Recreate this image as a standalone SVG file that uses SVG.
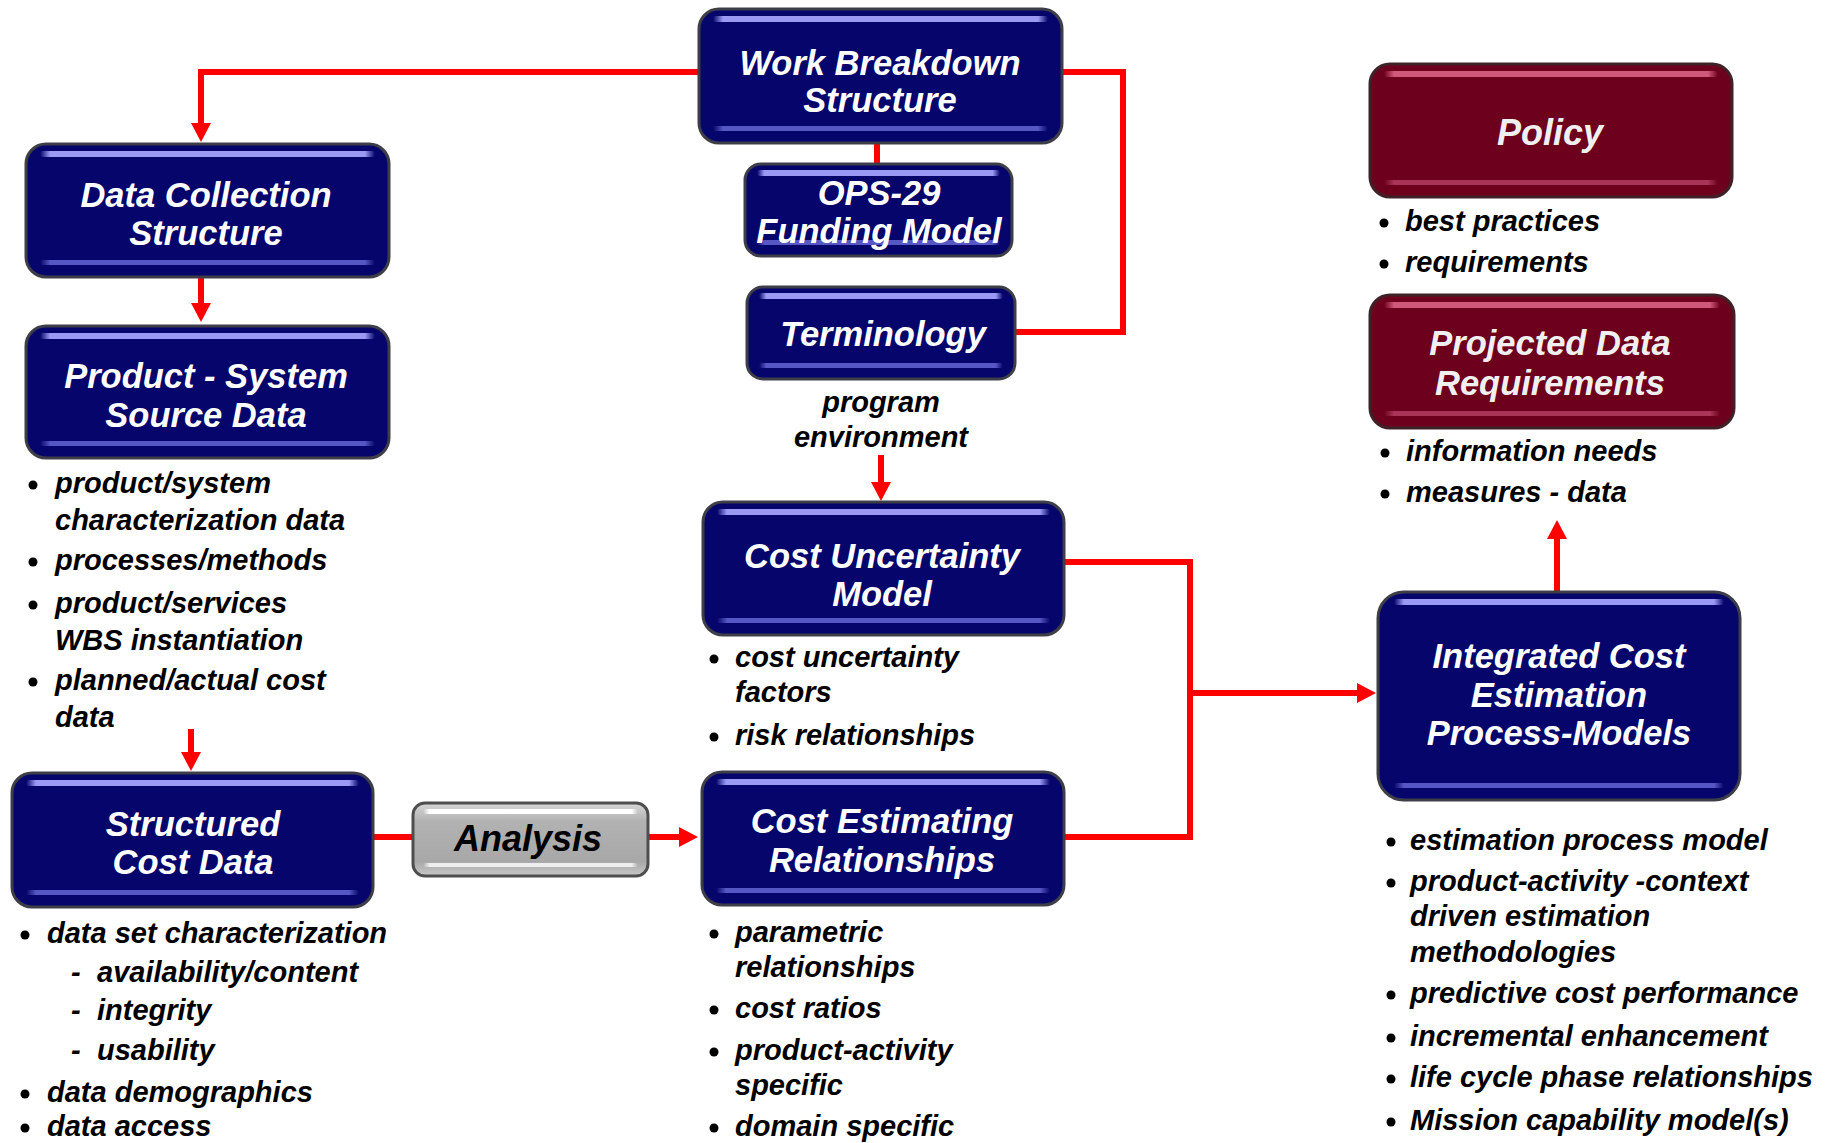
<svg xmlns="http://www.w3.org/2000/svg" width="1837" height="1143" viewBox="0 0 1837 1143">
<style>
  .base-n{fill:#05056b;stroke:#3e3e48;stroke-width:3}
  .base-m{fill:#6c001d;stroke:#3e2228;stroke-width:3}
  .base-g{fill:url(#gGray);stroke:#4e4e4e;stroke-width:3}
  .top-n{fill:url(#hlN)}
  .bot-n{fill:url(#blN)}
  .top-m{fill:url(#hlM)}
  .bot-m{fill:url(#blM)}
  .top-g{fill:url(#hlG)}
  .bot-g{fill:url(#blG)}
  .t{font-family:"Liberation Sans",Arial,sans-serif;font-weight:bold;font-style:italic;font-size:34.5px;fill:#ffffff;text-anchor:middle}
  .tp{font-family:"Liberation Sans",Arial,sans-serif;font-weight:bold;font-style:italic;font-size:36px;fill:#f0f0f0;text-anchor:middle}
  .ta{font-family:"Liberation Sans",Arial,sans-serif;font-weight:bold;font-style:italic;font-size:36px;fill:#000000;text-anchor:middle}
  .b{font-family:"Liberation Sans",Arial,sans-serif;font-weight:bold;font-style:italic;font-size:29px;fill:#000000}
  .bc{font-family:"Liberation Sans",Arial,sans-serif;font-weight:bold;font-style:italic;font-size:29px;fill:#000000;text-anchor:middle}
  .dot{fill:#000000}
  .wire{fill:none;stroke:#ff0000;stroke-width:6;stroke-linejoin:miter;stroke-linecap:butt}
  .arr{marker-end:url(#ah)}
</style>
<defs>
  <marker id="ah" markerUnits="userSpaceOnUse" markerWidth="20" markerHeight="20" viewBox="0 0 20 20" refX="0" refY="10" orient="auto">
    <path d="M0,0 L19,10 L0,20 z" fill="#ff0000"/>
  </marker>
  <linearGradient id="hlN" x1="0" y1="0" x2="1" y2="0">
    <stop offset="0" stop-color="#9a9af5" stop-opacity="0"/>
    <stop offset="0.03" stop-color="#9a9af5" stop-opacity="1"/>
    <stop offset="0.97" stop-color="#9a9af5" stop-opacity="1"/>
    <stop offset="1" stop-color="#9a9af5" stop-opacity="0"/>
  </linearGradient>
  <linearGradient id="blN" x1="0" y1="0" x2="1" y2="0">
    <stop offset="0" stop-color="#5656c4" stop-opacity="0"/>
    <stop offset="0.03" stop-color="#5656c4" stop-opacity="1"/>
    <stop offset="0.97" stop-color="#5656c4" stop-opacity="1"/>
    <stop offset="1" stop-color="#5656c4" stop-opacity="0"/>
  </linearGradient>
  <linearGradient id="hlM" x1="0" y1="0" x2="1" y2="0">
    <stop offset="0" stop-color="#d0587a" stop-opacity="0"/>
    <stop offset="0.03" stop-color="#d0587a" stop-opacity="1"/>
    <stop offset="0.97" stop-color="#d0587a" stop-opacity="1"/>
    <stop offset="1" stop-color="#d0587a" stop-opacity="0"/>
  </linearGradient>
  <linearGradient id="blM" x1="0" y1="0" x2="1" y2="0">
    <stop offset="0" stop-color="#a83458" stop-opacity="0"/>
    <stop offset="0.03" stop-color="#a83458" stop-opacity="1"/>
    <stop offset="0.97" stop-color="#a83458" stop-opacity="1"/>
    <stop offset="1" stop-color="#a83458" stop-opacity="0"/>
  </linearGradient>
  <linearGradient id="gGray" x1="0" y1="0" x2="0" y2="1">
    <stop offset="0" stop-color="#d6d6d6"/>
    <stop offset="0.25" stop-color="#b2b2b2"/>
    <stop offset="0.8" stop-color="#a8a8a8"/>
    <stop offset="1" stop-color="#c8c8c8"/>
  </linearGradient>
  <linearGradient id="hlG" x1="0" y1="0" x2="1" y2="0">
    <stop offset="0" stop-color="#ffffff" stop-opacity="0"/>
    <stop offset="0.03" stop-color="#ffffff" stop-opacity="1"/>
    <stop offset="0.97" stop-color="#ffffff" stop-opacity="1"/>
    <stop offset="1" stop-color="#ffffff" stop-opacity="0"/>
  </linearGradient>
  <linearGradient id="blG" x1="0" y1="0" x2="1" y2="0">
    <stop offset="0" stop-color="#eeeeee" stop-opacity="0"/>
    <stop offset="0.03" stop-color="#eeeeee" stop-opacity="1"/>
    <stop offset="0.97" stop-color="#eeeeee" stop-opacity="1"/>
    <stop offset="1" stop-color="#eeeeee" stop-opacity="0"/>
  </linearGradient>
</defs>
<rect x="0" y="0" width="1837" height="1143" fill="#ffffff"/>

<g id="connectors">
  <path class="wire arr" d="M699,72 H201 V123"/>
  <path class="wire arr" d="M201,277 V303"/>
  <path class="wire" d="M877,143 V164"/>
  <path class="wire" d="M1062,72 H1123 V332 H1015"/>
  <path class="wire arr" d="M881,455 V482"/>
  <path class="wire arr" d="M191,729 V752"/>
  <path class="wire" d="M373,837 H413"/>
  <path class="wire arr" d="M648,837 H679"/>
  <path class="wire" d="M1064,562 H1190 V837 H1064"/>
  <path class="wire arr" d="M1190,693 H1357"/>
  <path class="wire arr" d="M1557,592 V539"/>
</g>

<g id="wbs">
  <rect class="base-n" x="699" y="9" width="363" height="134" rx="20"/>
  <rect class="top-n" x="713" y="16" width="335" height="6" rx="3"/>
  <rect class="bot-n" x="713" y="126" width="335" height="5" rx="2.5"/>
  <text class="t" x="880" y="75">Work Breakdown</text>
  <text class="t" x="880" y="112">Structure</text>
</g>

<g id="ops29">
  <rect class="base-n" x="745" y="164" width="267" height="92" rx="16"/>
  <rect class="top-n" x="757" y="170" width="243" height="6" rx="3"/>
  <rect class="bot-n" x="757" y="240" width="243" height="5" rx="2.5"/>
  <text class="t" x="879" y="205">OPS-29</text>
  <text class="t" x="879" y="243">Funding Model</text>
</g>

<g id="terminology">
  <rect class="base-n" x="747" y="287" width="268" height="92" rx="16"/>
  <rect class="top-n" x="759" y="293" width="244" height="6" rx="3"/>
  <rect class="bot-n" x="759" y="363" width="244" height="5" rx="2.5"/>
  <text class="t" x="883" y="346">Terminology</text>
</g>

<g id="program-environment">
  <text class="bc" x="881" y="412">program</text>
  <text class="bc" x="881" y="447">environment</text>
</g>

<g id="data-collection">
  <rect class="base-n" x="26" y="144" width="363" height="133" rx="20"/>
  <rect class="top-n" x="40" y="151" width="335" height="6" rx="3"/>
  <rect class="bot-n" x="40" y="260" width="335" height="5" rx="2.5"/>
  <text class="t" x="206" y="207">Data Collection</text>
  <text class="t" x="206" y="245">Structure</text>
</g>

<g id="product-system">
  <rect class="base-n" x="26" y="326" width="363" height="132" rx="20"/>
  <rect class="top-n" x="40" y="333" width="335" height="6" rx="3"/>
  <rect class="bot-n" x="40" y="441" width="335" height="5" rx="2.5"/>
  <text class="t" x="206" y="388">Product - System</text>
  <text class="t" x="206" y="427">Source Data</text>
  <circle class="dot" cx="33" cy="485" r="4.5"/>
  <text class="b" x="55" y="493">product/system</text>
  <text class="b" x="55" y="530">characterization data</text>
  <circle class="dot" cx="33" cy="562" r="4.5"/>
  <text class="b" x="55" y="570">processes/methods</text>
  <circle class="dot" cx="33" cy="605" r="4.5"/>
  <text class="b" x="55" y="613">product/services</text>
  <text class="b" x="55" y="650">WBS instantiation</text>
  <circle class="dot" cx="33" cy="682" r="4.5"/>
  <text class="b" x="55" y="690">planned/actual cost</text>
  <text class="b" x="55" y="727">data</text>
</g>

<g id="structured-cost-data">
  <rect class="base-n" x="12" y="773" width="361" height="134" rx="20"/>
  <rect class="top-n" x="26" y="780" width="333" height="6" rx="3"/>
  <rect class="bot-n" x="26" y="890" width="333" height="5" rx="2.5"/>
  <text class="t" x="193" y="836">Structured</text>
  <text class="t" x="193" y="874">Cost Data</text>
  <circle class="dot" cx="25" cy="935" r="4.5"/>
  <text class="b" x="47" y="943">data set characterization</text>
  <text class="b" x="71" y="982">-</text>
  <text class="b" x="97" y="982">availability/content</text>
  <text class="b" x="71" y="1020">-</text>
  <text class="b" x="97" y="1020">integrity</text>
  <text class="b" x="71" y="1060">-</text>
  <text class="b" x="97" y="1060">usability</text>
  <circle class="dot" cx="25" cy="1094" r="4.5"/>
  <text class="b" x="47" y="1102">data demographics</text>
  <circle class="dot" cx="25" cy="1128" r="4.5"/>
  <text class="b" x="47" y="1136">data access</text>
</g>

<g id="analysis">
  <rect class="base-g" x="413" y="803" width="235" height="73" rx="12"/>
  <rect class="top-g" x="423" y="809" width="215" height="5" rx="2.5"/>
  <rect class="bot-g" x="423" y="863" width="215" height="4" rx="2"/>
  <text class="ta" x="528" y="851">Analysis</text>
</g>

<g id="cost-uncertainty-model">
  <rect class="base-n" x="703" y="502" width="361" height="133" rx="20"/>
  <rect class="top-n" x="717" y="509" width="333" height="6" rx="3"/>
  <rect class="bot-n" x="717" y="618" width="333" height="5" rx="2.5"/>
  <text class="t" x="882" y="568">Cost Uncertainty</text>
  <text class="t" x="882" y="606">Model</text>
  <circle class="dot" cx="714" cy="659" r="4.5"/>
  <text class="b" x="735" y="667">cost uncertainty</text>
  <text class="b" x="735" y="702">factors</text>
  <circle class="dot" cx="714" cy="737" r="4.5"/>
  <text class="b" x="735" y="745">risk relationships</text>
</g>

<g id="cost-estimating-relationships">
  <rect class="base-n" x="702" y="772" width="362" height="133" rx="20"/>
  <rect class="top-n" x="716" y="779" width="334" height="6" rx="3"/>
  <rect class="bot-n" x="716" y="888" width="334" height="5" rx="2.5"/>
  <text class="t" x="882" y="833">Cost Estimating</text>
  <text class="t" x="882" y="872">Relationships</text>
  <circle class="dot" cx="714" cy="934" r="4.5"/>
  <text class="b" x="735" y="942">parametric</text>
  <text class="b" x="735" y="977">relationships</text>
  <circle class="dot" cx="714" cy="1010" r="4.5"/>
  <text class="b" x="735" y="1018">cost ratios</text>
  <circle class="dot" cx="714" cy="1052" r="4.5"/>
  <text class="b" x="735" y="1060">product-activity</text>
  <text class="b" x="735" y="1095">specific</text>
  <circle class="dot" cx="714" cy="1128" r="4.5"/>
  <text class="b" x="735" y="1136">domain specific</text>
</g>

<g id="policy">
  <rect class="base-m" x="1370" y="64" width="362" height="133" rx="20"/>
  <rect class="top-m" x="1384" y="71" width="334" height="6" rx="3"/>
  <rect class="bot-m" x="1384" y="180" width="334" height="5" rx="2.5"/>
  <text class="tp" x="1550" y="145">Policy</text>
  <circle class="dot" cx="1384" cy="223" r="4.5"/>
  <text class="b" x="1405" y="231">best practices</text>
  <circle class="dot" cx="1384" cy="264" r="4.5"/>
  <text class="b" x="1405" y="272">requirements</text>
</g>

<g id="projected-data-requirements">
  <rect class="base-m" x="1370" y="295" width="364" height="133" rx="20"/>
  <rect class="top-m" x="1384" y="302" width="336" height="6" rx="3"/>
  <rect class="bot-m" x="1384" y="411" width="336" height="5" rx="2.5"/>
  <text class="t" x="1550" y="355" style="fill:#f0f0f0">Projected Data</text>
  <text class="t" x="1550" y="395" style="fill:#f0f0f0">Requirements</text>
  <circle class="dot" cx="1385" cy="453" r="4.5"/>
  <text class="b" x="1406" y="461">information needs</text>
  <circle class="dot" cx="1385" cy="494" r="4.5"/>
  <text class="b" x="1406" y="502">measures - data</text>
</g>

<g id="integrated-cost-estimation">
  <rect class="base-n" x="1378" y="592" width="362" height="208" rx="26"/>
  <rect class="top-n" x="1394" y="599" width="330" height="6" rx="3"/>
  <rect class="bot-n" x="1394" y="783" width="330" height="5" rx="2.5"/>
  <text class="t" x="1559" y="668">Integrated Cost</text>
  <text class="t" x="1559" y="707">Estimation</text>
  <text class="t" x="1559" y="745">Process-Models</text>
  <circle class="dot" cx="1391" cy="842" r="4.5"/>
  <text class="b" x="1410" y="850">estimation process model</text>
  <circle class="dot" cx="1391" cy="883" r="4.5"/>
  <text class="b" x="1410" y="891">product-activity -context</text>
  <text class="b" x="1410" y="926">driven estimation</text>
  <text class="b" x="1410" y="962">methodologies</text>
  <circle class="dot" cx="1391" cy="995" r="4.5"/>
  <text class="b" x="1410" y="1003">predictive cost performance</text>
  <circle class="dot" cx="1391" cy="1038" r="4.5"/>
  <text class="b" x="1410" y="1046">incremental enhancement</text>
  <circle class="dot" cx="1391" cy="1079" r="4.5"/>
  <text class="b" x="1410" y="1087">life cycle phase relationships</text>
  <circle class="dot" cx="1391" cy="1122" r="4.5"/>
  <text class="b" x="1410" y="1130">Mission capability model(s)</text>
</g>
</svg>
